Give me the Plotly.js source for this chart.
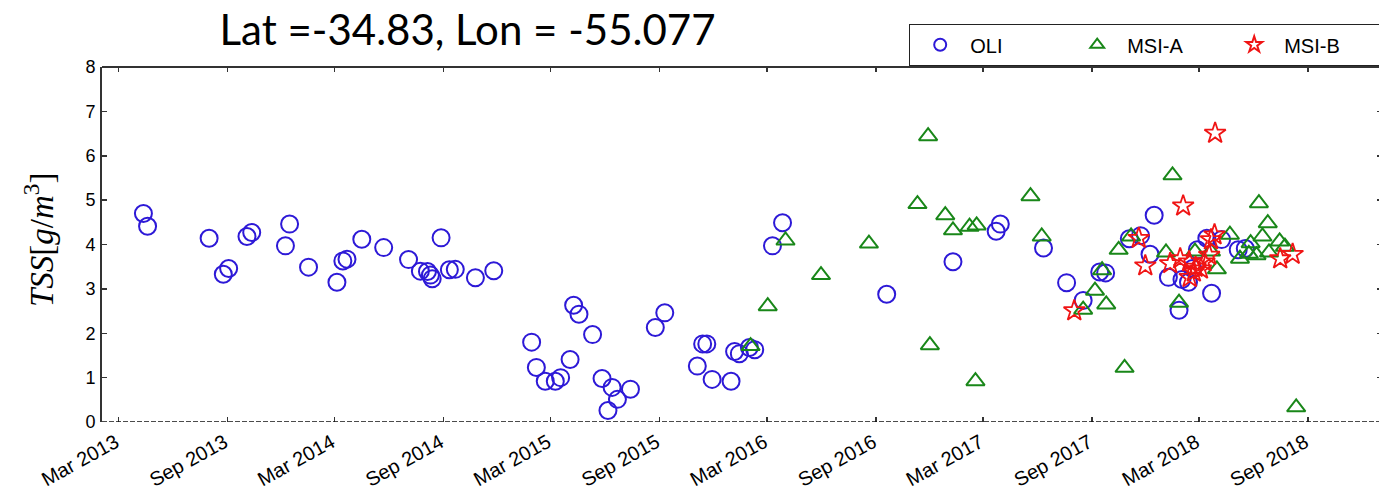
<!DOCTYPE html>
<html>
<head>
<meta charset="utf-8">
<script src="https://cdn.plot.ly/plotly-3.0.1.min.js"></script>
<style>
  html, body { margin: 0; padding: 0; overflow: hidden; background: #fff; }
  #chart { width: 1382px; height: 496px; }
</style>
</head>
<body>
<div id="chart"></div>
<script>
// ---- data ----
const oliDates = [
  '2013-04-12','2013-04-19','2013-08-01','2013-08-25','2013-09-03','2013-10-04','2013-10-12',
  '2013-12-08','2013-12-15','2014-01-16','2014-03-05','2014-03-15','2014-03-22','2014-04-16',
  '2014-05-23','2014-07-04','2014-07-24','2014-08-05','2014-08-10','2014-08-13','2014-08-28',
  '2014-09-11','2014-09-21','2014-10-25','2014-11-25','2015-01-28','2015-02-05','2015-02-20',
  '2015-03-09','2015-03-18','2015-04-03','2015-04-09','2015-04-18','2015-05-11','2015-05-27',
  '2015-06-06','2015-06-13','2015-06-22','2015-07-14','2015-08-25','2015-09-10','2015-11-04',
  '2015-11-13','2015-11-20','2015-11-29','2015-12-31','2016-01-06','2016-01-14','2016-01-31',
  '2016-02-09','2016-03-10','2016-03-27','2016-09-19','2017-01-09','2017-03-23','2017-03-30',
  '2017-06-11','2017-07-20','2017-08-17','2017-09-14','2017-09-24','2017-11-03','2017-11-22',
  '2017-12-08','2017-12-15','2018-01-08','2018-01-26','2018-01-31','2018-02-11','2018-02-18',
  '2018-02-26','2018-03-14','2018-03-22','2018-04-08','2018-05-06','2018-05-18'
];
const oliTss = [
  4.70,4.41,4.14,3.33,3.46,4.18,4.27,
  3.97,4.46,3.49,3.15,3.63,3.67,4.12,
  3.93,3.66,3.40,3.39,3.31,3.23,4.15,
  3.43,3.44,3.25,3.41,1.80,1.23,0.92,
  0.92,1.00,1.41,2.63,2.43,1.97,0.98,
  0.26,0.78,0.51,0.74,2.13,2.46,1.26,
  1.76,1.76,0.96,0.92,1.59,1.54,1.68,
  1.63,3.97,4.49,2.88,3.61,4.30,4.46,
  3.92,3.14,2.74,3.38,3.36,4.13,4.20,
  3.78,4.66,3.26,2.52,3.21,3.15,3.46,
  3.88,4.14,2.90,4.11,3.88,3.91
];

const msiADates = [
  '2016-02-02','2016-03-02','2016-04-01','2016-05-31','2016-08-20','2016-11-10','2016-11-28',
  '2016-12-01','2016-12-27','2017-01-09','2017-02-06','2017-02-16','2017-02-18','2017-05-20',
  '2017-06-08','2017-08-17','2017-09-06','2017-09-18','2017-09-25','2017-10-16','2017-10-26',
  '2017-11-06','2018-01-04','2018-01-15','2018-01-26','2018-02-22','2018-03-21','2018-03-31',
  '2018-04-22','2018-05-09','2018-05-24','2018-05-27','2018-06-06','2018-06-10','2018-06-16',
  '2018-06-25','2018-06-27','2018-07-15','2018-07-24','2018-08-12'
];
const msiATss = [
  1.71,2.61,4.09,3.31,4.02,4.91,6.44,
  1.73,4.66,4.32,4.40,0.92,4.43,5.09,
  4.18,2.53,2.96,3.42,2.65,3.88,1.22,
  4.18,3.82,5.56,2.69,3.84,3.84,3.44,
  4.22,3.68,3.79,4.03,3.76,4.93,4.18,
  4.48,3.82,4.07,3.95,0.33
];

const msiBDates = [
  '2017-08-02','2017-11-19','2017-11-30','2018-01-11','2018-01-28','2018-02-02','2018-02-12',
  '2018-02-13','2018-02-20','2018-02-23','2018-03-04','2018-03-10','2018-03-18','2018-03-21',
  '2018-03-27','2018-03-28','2018-07-16','2018-08-06'
];
const msiBTss = [
  2.51,4.14,3.52,3.57,3.68,4.87,3.61,
  3.26,3.38,3.49,3.45,3.61,3.76,4.11,
  4.22,6.51,3.68,3.78
];

const xTickVals = ['2013-03-01','2013-09-01','2014-03-01','2014-09-01','2015-03-01','2015-09-01',
  '2016-03-01','2016-09-01','2017-03-01','2017-09-01','2018-03-01','2018-09-01'];
const xTickText = ['Mar 2013','Sep 2013','Mar 2014','Sep 2014','Mar 2015','Sep 2015',
  'Mar 2016','Sep 2016','Mar 2017','Sep 2017','Mar 2018','Sep 2018'];
const yTickVals = [0,1,2,3,4,5,6,7,8];

// ---- styling ----
const BLUE = 'rgb(45,25,215)';
const GREEN = 'rgb(25,135,25)';
const RED = 'rgb(240,20,20)';
const AX = '#333';

const traces = [
  { x: oliDates, y: oliTss, name: 'OLI', type: 'scatter', mode: 'markers',
    marker: { symbol: 'circle-open', size: 17, color: BLUE, line: { width: 2, color: BLUE } } },
  { x: msiADates, y: msiATss, name: 'MSI-A', type: 'scatter', mode: 'markers',
    marker: { symbol: 'triangle-up-open', size: 16, color: GREEN, line: { width: 2, color: GREEN } } },
  { x: msiBDates, y: msiBTss, name: 'MSI-B', type: 'scatter', mode: 'markers',
    marker: { symbol: 'star-open', size: 16, color: RED, line: { width: 1.8, color: RED } } }
];

const layout = {
  width: 1382, height: 496,
  margin: { l: 102, r: 0, t: 67, b: 74, autoexpand: false },
  paper_bgcolor: '#fff', plot_bgcolor: '#fff',
  showlegend: true,
  title: {
    text: 'Lat =-34.83, Lon = -55.077',
    font: { family: 'Lato, "Open Sans", sans-serif', size: 42, color: '#000' },
    xref: 'container', x: 467.5 / 1382, xanchor: 'center',
    yref: 'container', y: 1 - 30 / 496, yanchor: 'middle'
  },
  xaxis: {
    type: 'date',
    range: ['2013-02-01', '2019-01-04'],
    tickmode: 'array', tickvals: xTickVals, ticktext: xTickText,
    tickangle: -29,
    ticks: 'inside', ticklen: 5, tickwidth: 1.5, tickcolor: AX,
    mirror: 'ticks', showline: false,
    showgrid: false, zeroline: false,
    ticklabelstandoff: 4, ticklabelshift: -3,
    tickfont: { family: '"Liberation Sans", Arial, sans-serif', size: 20, color: '#000' }
  },
  yaxis: {
    range: [0, 8],
    tickmode: 'array', tickvals: yTickVals,
    ticks: 'inside', ticklen: 5, tickwidth: 1.5, tickcolor: AX,
    showline: true, linecolor: AX, linewidth: 2, mirror: 'ticks',
    showgrid: false, zeroline: false,
    ticklabelstandoff: 1,
    tickfont: { family: '"Liberation Sans", Arial, sans-serif', size: 18, color: '#000' }
  },
  legend: {
    orientation: 'h',
    x: (909 - 102) / 1280, xanchor: 'left',
    y: (422 - 24) / 355, yanchor: 'top',
    bgcolor: '#fff', bordercolor: '#222', borderwidth: 1.2,
    font: { family: '"Liberation Sans", Arial, sans-serif', size: 20, color: '#000' },
    itemwidth: 50, itemsizing: 'constant',
    entrywidth: 92
  },
  shapes: [
    { type: 'line', xref: 'paper', yref: 'y', x0: 0, x1: 1, y0: 0, y1: 0,
      line: { color: '#111', width: 1.6, dash: '5px,2px' } },
    { type: 'line', xref: 'paper', yref: 'paper', x0: 0, x1: 1, y0: 1, y1: 1,
      line: { color: AX, width: 2 } }
  ],
  annotations: [
    { text: '<i>TSS</i>[<i>g</i>/<i>m</i><sup>3</sup>]',
      xref: 'paper', x: (39 - 102) / 1280, xanchor: 'center',
      yref: 'paper', y: (422 - 240) / 355, yanchor: 'middle',
      textangle: -90, showarrow: false,
      font: { family: '"Liberation Serif", "DejaVu Serif", serif', size: 33, color: '#000' } }
  ]
};

Plotly.newPlot('chart', traces, layout, { displayModeBar: false, staticPlot: true });
</script>
</body>
</html>
